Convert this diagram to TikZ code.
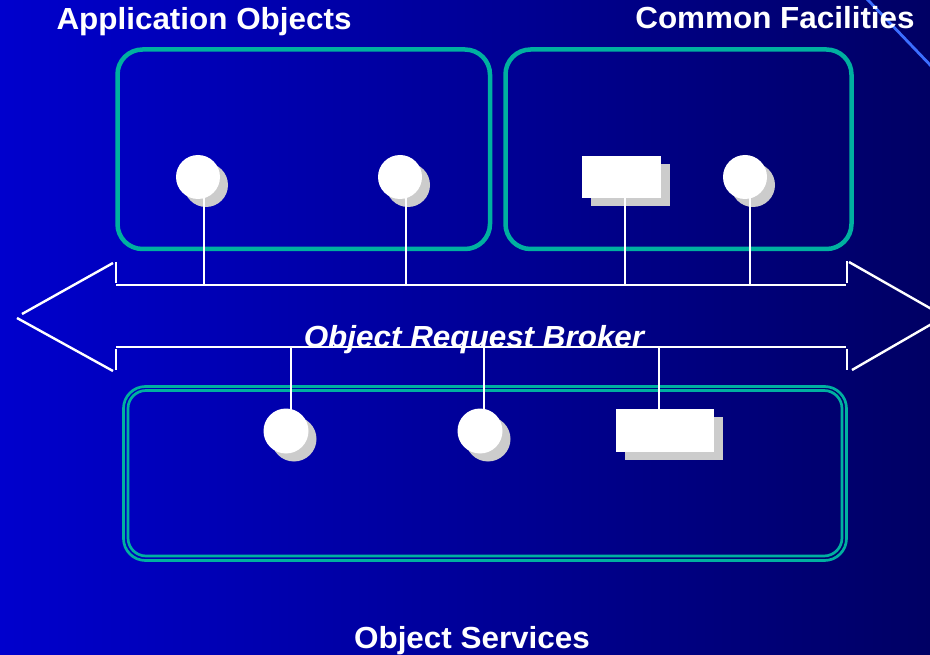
\documentclass[tikz,border=0pt]{standalone}
\usepackage{fontspec}
\setmainfont{Liberation Sans}
\newfontfamily\slidefont[FakeStretch=1.03]{Liberation Sans}
\usetikzlibrary{shadows}

\definecolor{bgleft}{RGB}{0,0,205}
\definecolor{bgright}{RGB}{0,0,100}
\definecolor{groupline}{RGB}{0,176,160}
\definecolor{shadowgray}{RGB}{204,204,204}
\definecolor{edgeblue}{RGB}{60,110,255}

\begin{document}
\begin{tikzpicture}[x=1pt,y=-1pt,
		group/.style={draw=groupline, line width=4.5pt, rounded corners=25pt},
		osline/.style={draw=groupline, line width=2.7pt},
		bus/.style={draw=white, line width=2.4pt},
		wire/.style={draw=white, line width=2.2pt},
		obj/.style={circle, fill=white, inner sep=0pt, minimum size=44pt,
			drop shadow={shadow xshift=8pt, shadow yshift=-8pt, fill=shadowgray, opacity=1}},
		iface/.style={rectangle, fill=white, inner sep=0pt,
			drop shadow={shadow xshift=9pt, shadow yshift=-8pt, fill=shadowgray, opacity=1}},
		title/.style={text=white, font=\slidefont\bfseries\fontsize{30.5}{32}\selectfont}]
	\clip (0,0) rectangle (930,655);
	\useasboundingbox (0,0) rectangle (930,655);
	\shade[left color=bgleft, right color=bgright] (0,0) rectangle (930,655);
	\draw[edgeblue, line width=2.8pt] (866,-2) -- (934,69);

	% the three groups
	\draw[group] (117.5,49.5) rectangle (490,249);
	\draw[group] (505.5,49.5) rectangle (851.5,249);
	\draw[osline, rounded corners=22pt] (123.5,386.5) rectangle (846.5,560.5);
	\draw[osline, rounded corners=18pt] (128,390.5) rectangle (842,556);

	% broker arrow
	\coordinate (busNW) at (116,285);
	\coordinate (busNE) at (846,285);
	\coordinate (busSW) at (116,347);
	\coordinate (busSE) at (846,347);
	\node[title, font=\slidefont\bfseries\itshape\fontsize{30.5}{32}\selectfont, anchor=base] (orb) at (474,347.5) {Object Request Broker};
	\draw[bus] (busNW) -- (busNE);
	\draw[bus] (busSW) -- (busSE);
	\draw[bus] (116,262) -- (116,283);
	\draw[bus] (116,349) -- (116,370);
	\draw[bus] (113,263) -- (22,314);
	\draw[bus] (17,318) -- (113,371);
	\draw[bus] (847,261) -- (847,283);
	\draw[bus] (847,349) -- (847,370);
	\draw[bus] (849,262) -- (942,315);
	\draw[bus] (852,370) -- (942,318);

	% objects
	\node[obj] (ao1) at (198,177) {};
	\node[obj] (ao2) at (400,177) {};
	\node[iface, minimum width=79pt, minimum height=42pt] (cf1) at (621.5,177) {};
	\node[obj] (cf2) at (745,177) {};
	\node[obj, minimum size=45pt] (os1) at (286,431) {};
	\node[obj, minimum size=45pt] (os2) at (480,431) {};
	\node[iface, minimum width=98pt, minimum height=43pt] (os3) at (665,430.5) {};

	\foreach \n/\x in {ao1/204, ao2/406, cf1/625, cf2/750} {
		\coordinate (tap-\n) at (\x,285);
		\draw[wire] (tap-\n |- \n.center) -- (tap-\n);
	}
	\foreach \n/\x in {os1/291, os2/484, os3/659} {
		\coordinate (tap-\n) at (\x,347);
		\draw[wire] (tap-\n) -- (tap-\n |- \n.center);
	}

	\node[title, anchor=base] (aotitle) at (204,30) {Application Objects};
	\node[title, anchor=base] (cftitle) at (775,29) {Common Facilities};
	\node[title, anchor=base] (ostitle) at (472,648) {Object Services};
\end{tikzpicture}
\end{document}
